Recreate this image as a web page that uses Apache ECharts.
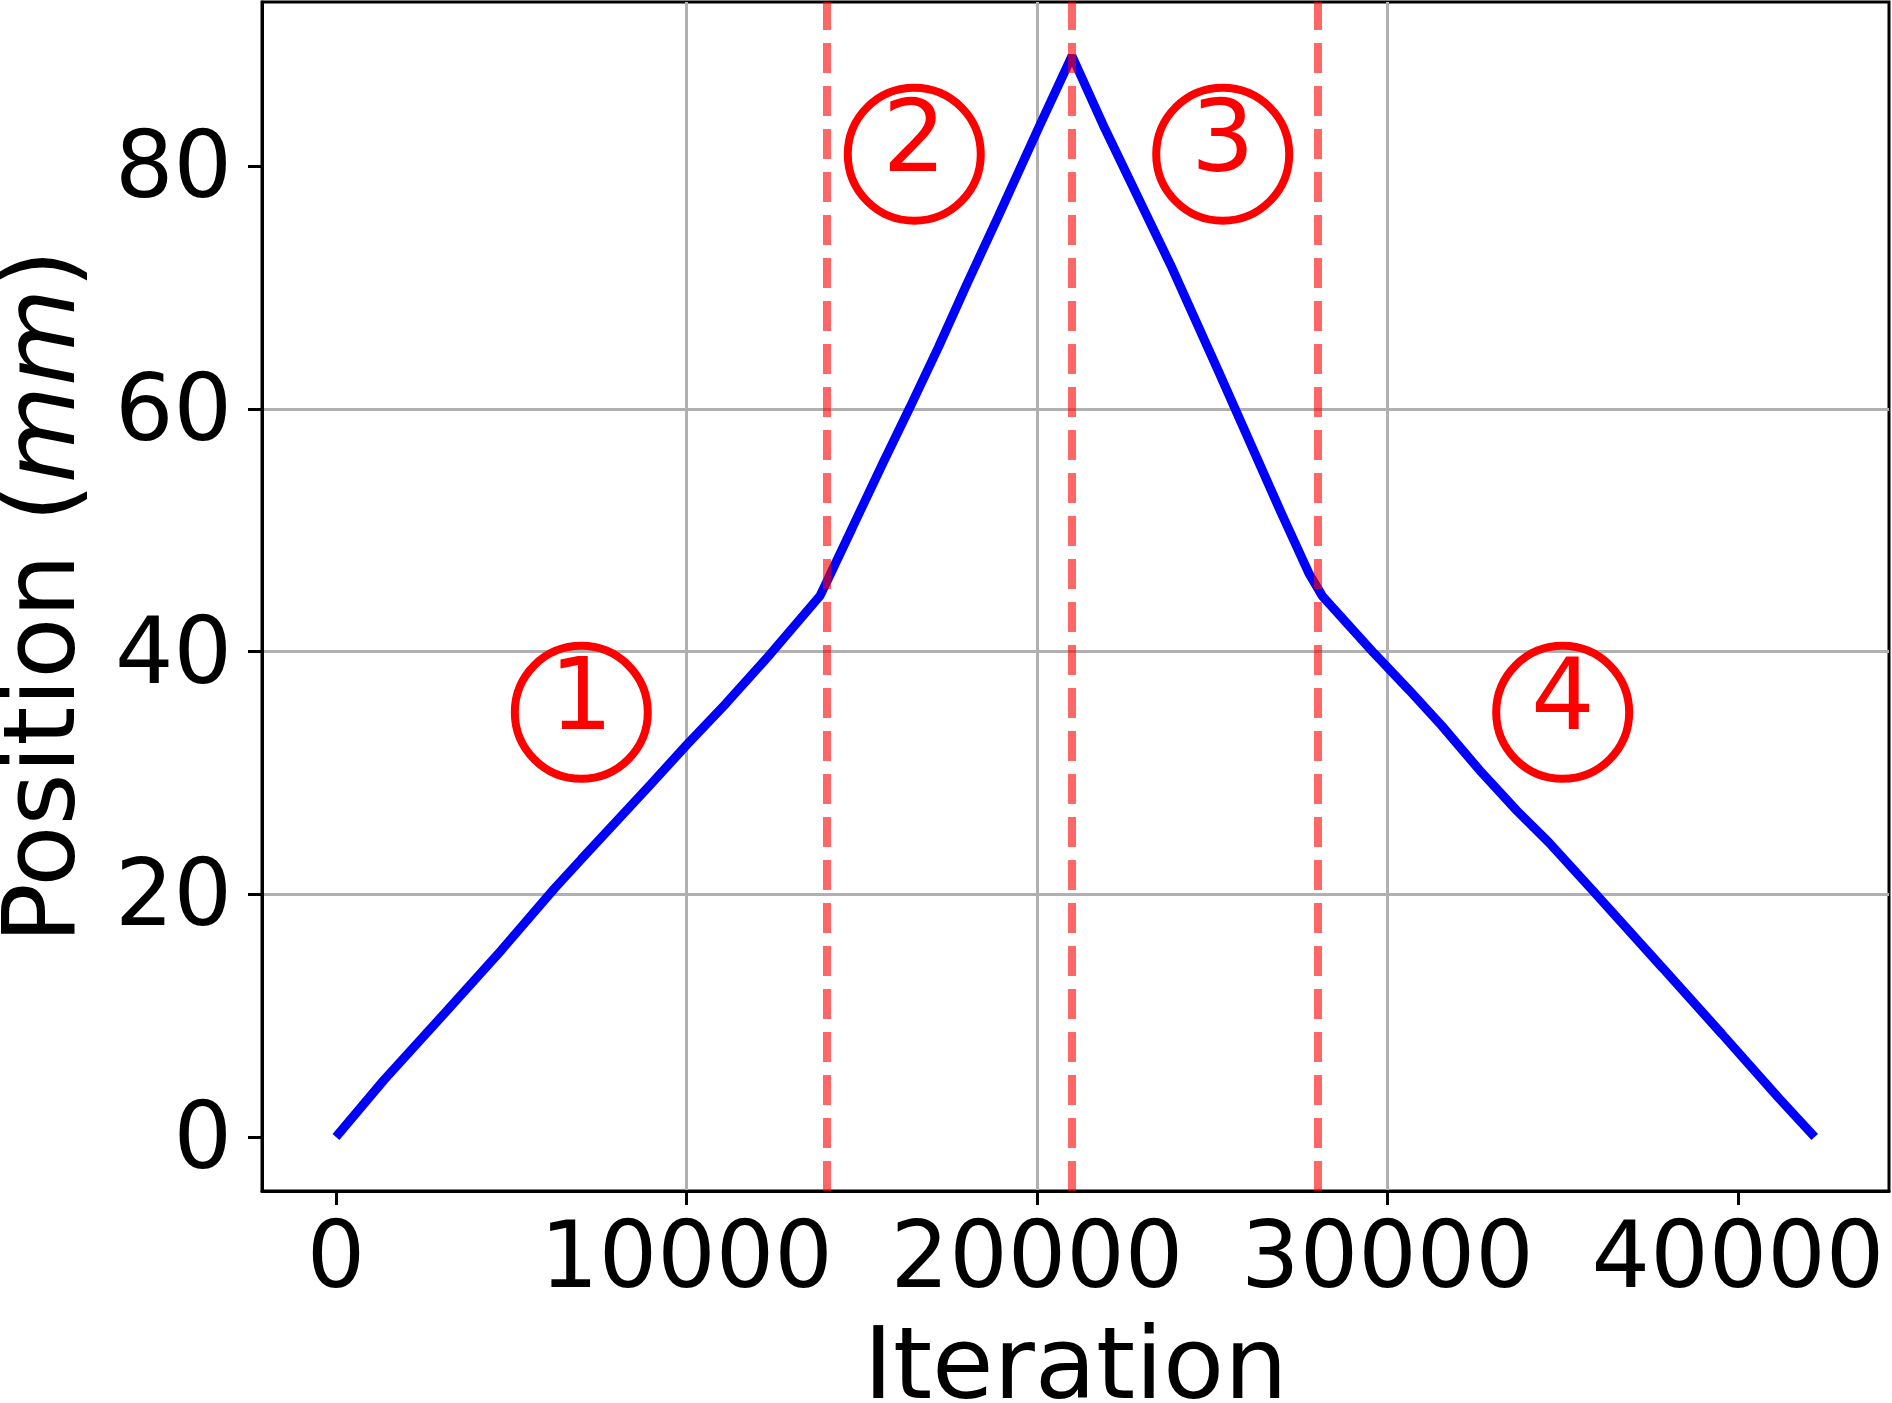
<!DOCTYPE html>
<html>
<head>
<meta charset="utf-8">
<script src="https://cdn.jsdelivr.net/npm/echarts@6/dist/echarts.min.js"></script>
<style>
  html, body { margin: 0; padding: 0; background: #fff; }
  #chart { width: 1892px; height: 1403px; }
</style>
</head>
<body>
<div id="chart"></div>
<script>
// position trace
const iterations = [0, 1370, 3100, 4720, 6240, 7000, 8990, 10000, 11120, 12390, 13810,
  13960, 14730, 15630, 16370, 17190, 18000, 18900, 20050, 21000,
  21940, 23810, 25180, 26960, 27770, 28140,
  29610, 30630, 31550, 32670, 33690, 34600, 35830, 37860, 39540, 41170, 42190]
const positions = [0, 4.7, 10.2, 15.4, 20.5, 22.9, 29.1, 32.3, 35.7, 39.8, 44.6,
  45.5, 50.2, 55.7, 60.1, 65.1, 70.3, 75.9, 83.2, 89.1,
  83.1, 71.9, 63.1, 51.5, 46.4, 44.6,
  39.9, 36.8, 33.9, 30.1, 26.9, 24.3, 20.4, 13.9, 8.5, 3.2, 0]

// phase boundaries (dashed lines) and phase markers
const phaseBounds = [14000, 21000, 28000]
const phaseNames = ['1', '2', '3', '4']
const phaseX = [7000, 16500, 25300, 35000]
const phaseY = [35, 81, 81, 35]

const xTicks = [0, 10000, 20000, 30000, 40000]
const yTicks = [0, 20, 40, 60, 80]

const FONT = 'DejaVu Sans'
const xMin = -2110, xMax = 44310
const yMin = -4.45, yMax = 93.55

const chart = echarts.init(document.getElementById('chart'))

const lineData = iterations.map((x, i) => [x, positions[i]])
const phaseData = phaseNames.map((n, i) => ({ name: n, value: [phaseX[i], phaseY[i]] }))

const option = {
  animation: false,
  backgroundColor: '#fff',
  grid: {
    left: 262,
    right: 3,
    top: 2,
    bottom: 212,
    show: true,
    borderColor: '#000',
    borderWidth: 3,
    backgroundColor: 'transparent',
    containLabel: false,
    outerBoundsMode: 'none',
  },
  xAxis: {
    type: 'value',
    min: xMin,
    max: xMax,
    splitNumber: 5,
    name: 'Iteration',
    nameLocation: 'middle',
    nameGap: 131,
    nameTextStyle: { fontFamily: FONT, fontSize: 100, color: '#000' },
    axisLine: { show: true, onZero: false, lineStyle: { color: '#000', width: 3 } },
    axisTick: { show: true, length: 14, customValues: xTicks, lineStyle: { color: '#000', width: 3 } },
    axisLabel: {
      customValues: xTicks,
      margin: 26,
      formatter: v => String(v),
      fontFamily: FONT,
      fontSize: 92,
      color: '#000',
    },
    splitLine: { show: true, showMinLine: false, showMaxLine: false, lineStyle: { color: '#b0b0b0', width: 3 } },
  },
  yAxis: {
    type: 'value',
    min: yMin,
    max: yMax,
    splitNumber: 5,
    name: '{n|Position (}{i|mm}{n|)}',
    nameLocation: 'middle',
    nameRotate: 90,
    nameGap: 164,
    nameTextStyle: {
      fontFamily: FONT,
      fontSize: 100,
      color: '#000',
      rich: {
        n: { fontFamily: FONT, fontSize: 100, color: '#000' },
        i: { fontFamily: FONT, fontSize: 100, color: '#000', fontStyle: 'italic' },
      },
    },
    axisLine: { show: true, onZero: false, lineStyle: { color: '#000', width: 3 } },
    axisTick: { show: true, length: 14, customValues: yTicks, lineStyle: { color: '#000', width: 3 } },
    axisLabel: {
      customValues: yTicks,
      margin: 30,
      verticalAlign: 'top',
      lineHeight: 14,
      formatter: v => String(v),
      fontFamily: FONT,
      fontSize: 92,
      color: '#000',
    },
    splitLine: { show: true, showMinLine: false, showMaxLine: false, lineStyle: { color: '#b0b0b0', width: 3 } },
  },
  series: [
    {
      type: 'line',
      data: lineData,
      symbol: 'none',
      z: 3,
      lineStyle: { color: '#0000ff', width: 9 },
    },
    {
      type: 'line',
      data: [],
      z: 4,
      markLine: {
        silent: true,
        symbol: 'none',
        label: { show: false },
        lineStyle: { color: 'rgba(255,0,0,0.6)', width: 8, type: [30, 13] },
        data: phaseBounds.map(x => ({ xAxis: x })),
      },
    },
    {
      type: 'scatter',
      data: phaseData,
      symbol: 'circle',
      symbolSize: 133,
      z: 5,
      itemStyle: { color: 'rgba(0,0,0,0)', borderColor: '#ff0000', borderWidth: 8, opacity: 1 },
      label: {
        show: true,
        position: 'inside',
        offset: [0, -9],
        formatter: p => p.name,
        fontFamily: FONT,
        fontSize: 100,
        color: '#ff0000',
      },
    },
  ],
}

chart.setOption(option)
</script>
</body>
</html>
